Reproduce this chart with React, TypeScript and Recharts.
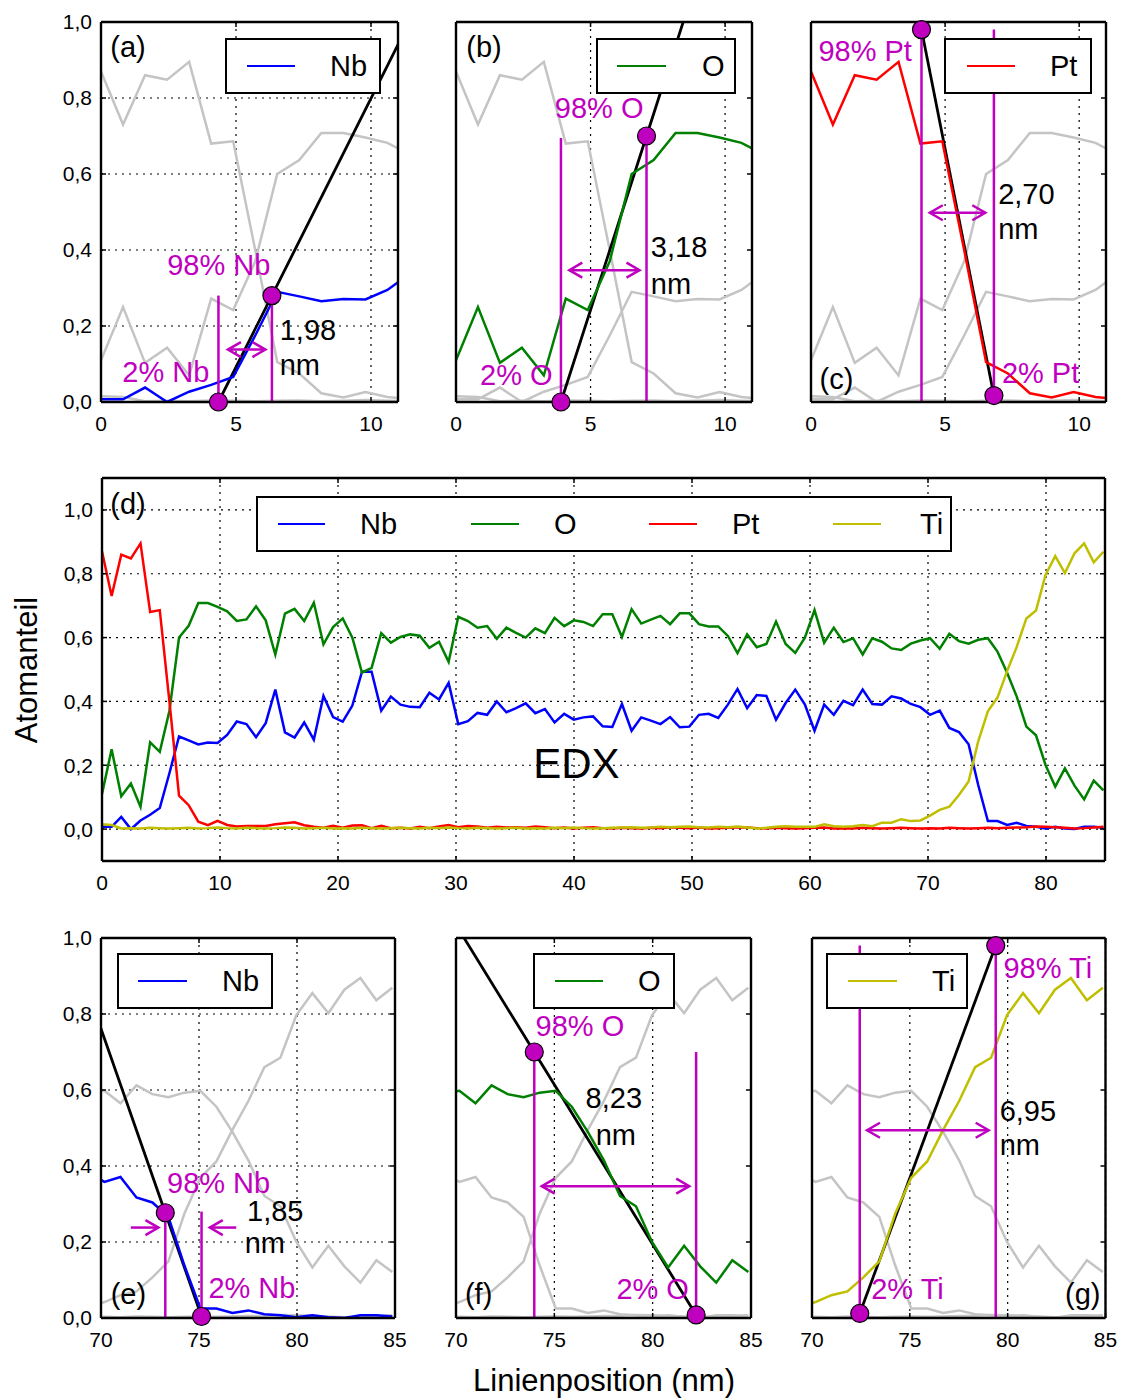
import React from 'react';
import { LineChart, Line, XAxis, YAxis, CartesianGrid, ReferenceLine, ReferenceDot } from 'recharts';

// EDX line scan, one sample about every 0.816 nm (105 samples over 0..85 nm)
const STEP_NM = 0.816;

const NB = [
  0.007, 0.007, 0.038, 0.0, 0.027, 0.045, 0.066, 0.175, 0.29, 0.278,
  0.265, 0.271, 0.27, 0.295, 0.337, 0.329, 0.288, 0.332, 0.437, 0.303,
  0.287, 0.334, 0.28, 0.417, 0.351, 0.337, 0.387, 0.493, 0.493, 0.371,
  0.415, 0.39, 0.383, 0.382, 0.427, 0.406, 0.458, 0.329, 0.338, 0.364,
  0.358, 0.4, 0.366, 0.379, 0.394, 0.363, 0.376, 0.334, 0.361, 0.343,
  0.35, 0.353, 0.322, 0.32, 0.392, 0.308, 0.35, 0.34, 0.329, 0.351,
  0.319, 0.321, 0.358, 0.361, 0.348, 0.39, 0.439, 0.379, 0.42, 0.417,
  0.343, 0.395, 0.437, 0.39, 0.308, 0.39, 0.358, 0.402, 0.388, 0.437,
  0.392, 0.39, 0.416, 0.409, 0.392, 0.382, 0.358, 0.371, 0.317, 0.304,
  0.266, 0.138, 0.025, 0.025, 0.013, 0.02, 0.01, 0.007, 0.002, 0.007,
  0.002, 0.0, 0.007, 0.007, 0.004,
];
const OX = [
  0.11, 0.25, 0.103, 0.143, 0.07, 0.272, 0.242, 0.37, 0.6, 0.637,
  0.708, 0.708, 0.696, 0.682, 0.652, 0.657, 0.698, 0.654, 0.547, 0.675,
  0.69, 0.652, 0.709, 0.579, 0.633, 0.66, 0.6, 0.49, 0.505, 0.614,
  0.584, 0.602, 0.61, 0.606, 0.568, 0.587, 0.524, 0.665, 0.652, 0.631,
  0.636, 0.596, 0.631, 0.615, 0.6, 0.629, 0.614, 0.662, 0.636, 0.654,
  0.649, 0.636, 0.673, 0.673, 0.602, 0.689, 0.644, 0.656, 0.668, 0.642,
  0.676, 0.676, 0.642, 0.635, 0.635, 0.605, 0.551, 0.61, 0.57, 0.58,
  0.65, 0.58, 0.552, 0.6, 0.686, 0.584, 0.631, 0.586, 0.598, 0.547,
  0.598, 0.587, 0.566, 0.561, 0.581, 0.591, 0.598, 0.565, 0.612, 0.589,
  0.581, 0.593, 0.598, 0.556, 0.49, 0.415, 0.321, 0.294, 0.2, 0.133,
  0.19, 0.136, 0.093, 0.152, 0.121,
];
const PT = [
  0.87, 0.73, 0.86, 0.848, 0.895, 0.68, 0.686, 0.4, 0.105, 0.075,
  0.023, 0.012, 0.026, 0.013, 0.008, 0.01, 0.01, 0.01, 0.015, 0.018,
  0.021, 0.012, 0.007, 0.004, 0.01, 0.004, 0.011, 0.012, 0.003, 0.01,
  0.003, 0.004, 0.002, 0.007, 0.003, 0.008, 0.013, 0.006, 0.01, 0.008,
  0.004, 0.007, 0.005, 0.006, 0.004, 0.008, 0.006, 0.003, 0.005, 0.002,
  0.004, 0.006, 0.003, 0.002, 0.004, 0.003, 0.002, 0.004, 0.003, 0.006,
  0.004, 0.003, 0.005, 0.002, 0.003, 0.004, 0.006, 0.005, 0.003, 0.002,
  0.004, 0.003, 0.002, 0.003, 0.004, 0.005, 0.002, 0.003, 0.002, 0.004,
  0.003, 0.002, 0.003, 0.004, 0.003, 0.002, 0.003, 0.002, 0.004, 0.003,
  0.002, 0.003, 0.004, 0.003, 0.004, 0.005, 0.006, 0.008, 0.007, 0.006,
  0.004, 0.002, 0.003, 0.005, 0.007,
];
const TI = [
  0.015, 0.013, 0.002, 0.003, 0.002, 0.004, 0.003, 0.002, 0.003, 0.004,
  0.002, 0.003, 0.005, 0.003, 0.002, 0.004, 0.003, 0.002, 0.003, 0.005,
  0.004, 0.002, 0.003, 0.004, 0.002, 0.003, 0.002, 0.004, 0.003, 0.002,
  0.003, 0.004, 0.003, 0.002, 0.004, 0.003, 0.005, 0.003, 0.002, 0.004,
  0.003, 0.002, 0.003, 0.004, 0.002, 0.003, 0.002, 0.004, 0.003, 0.005,
  0.003, 0.002, 0.003, 0.004, 0.005, 0.006, 0.004, 0.005, 0.007, 0.006,
  0.007, 0.008, 0.006, 0.005, 0.007, 0.006, 0.008, 0.005, 0.002, 0.004,
  0.007, 0.009, 0.007, 0.007, 0.007, 0.015, 0.009, 0.007, 0.009, 0.013,
  0.009, 0.02, 0.02, 0.031, 0.025, 0.027, 0.042, 0.06, 0.07, 0.107,
  0.149, 0.275, 0.369, 0.412, 0.495, 0.571, 0.66, 0.685, 0.797, 0.855,
  0.802, 0.864, 0.895, 0.836, 0.869,
];

const ELEMENTS = ['Nb', 'O', 'Pt', 'Ti'];
const COLORS: Record<string, string> = { Nb: '#0000ff', O: '#008000', Pt: '#ff0000', Ti: '#bfbf00' };
const GRAY = '#c4c4c4';
const MAGENTA = '#bf00bf';
const FONT = '"Liberation Sans", Arial, Helvetica, sans-serif';

const Y_TICKS = [0, 0.2, 0.4, 0.6, 0.8, 1.0];

const scan = NB.map((nb, i) => ({
  x: Math.round(i * STEP_NM * 1000) / 1000,
  Nb: nb,
  O: OX[i],
  Pt: PT[i],
  Ti: TI[i],
}));

type P = { x: number; y: number };
type Note = { x: number; y: number; text: string; color?: string; anchor?: 'start' | 'middle' | 'end'; size?: number };
type Arrow = { x1: number; x2: number; y: number; both: boolean };
type LegendCfg = { left: number; top: number; w: number; h: number; items: { name: string; line: [number, number]; text: number }[] };
type PanelCfg = {
  id: string;
  left: number; top: number; w: number; h: number;
  xDomain: [number, number]; xTicks: number[];
  yDomain: [number, number];
  yLabels: boolean;
  focus?: string;
  fit?: P[];
  dots?: P[];
  vlines?: P[];
  arrows?: Arrow[];
  notes: Note[];
  legend: LegendCfg;
};

// point on the straight line through a and b at position x
const along = (a: P, b: P, x: number): P => ({ x, y: a.y + ((b.y - a.y) * (x - a.x)) / (b.x - a.x) });

// 2% / 98% points of each transition
const A2 = { x: 4.35, y: 0 }, A98 = { x: 6.33, y: 0.28 };
const B2 = { x: 3.9, y: 0 }, B98 = { x: 7.08, y: 0.7 };
const C98 = { x: 4.12, y: 0.98 }, C2 = { x: 6.82, y: 0.017 };
const E98 = { x: 73.28, y: 0.277 }, E2 = { x: 75.13, y: 0.004 };
const F98 = { x: 73.98, y: 0.7 }, F2 = { x: 82.21, y: 0.008 };
const G2 = { x: 72.44, y: 0.012 }, G98 = { x: 79.39, y: 0.98 };

const TOP = { top: 21.7, h: 380, xDomain: [0, 11] as [number, number], xTicks: [0, 5, 10], yDomain: [0, 1] as [number, number] };
const BOT = { top: 938, h: 380, xDomain: [70, 85] as [number, number], xTicks: [70, 75, 80, 85], yDomain: [0, 1] as [number, number] };

const PANELS: PanelCfg[] = [
  {
    id: 'a', left: 101, w: 297, ...TOP, yLabels: true, focus: 'Nb',
    fit: [A2, A98, along(A2, A98, 11.6)], dots: [A2, A98],
    vlines: [{ x: 4.35, y: 0.28 }, { x: 6.33, y: 0.28 }],
    arrows: [{ x1: 4.7, x2: 6.09, y: 0.138, both: true }],
    notes: [
      { x: 1.0, y: 0.935, text: '(a)' },
      { x: 4.36, y: 0.36, text: '98% Nb', color: MAGENTA },
      { x: 2.4, y: 0.08, text: '2% Nb', color: MAGENTA },
      { x: 6.62, y: 0.19, text: '1,98', anchor: 'start' },
      { x: 6.62, y: 0.098, text: 'nm', anchor: 'start' },
    ],
    legend: { left: 225, top: 38, w: 156, h: 56, items: [{ name: 'Nb', line: [247, 295], text: 330 }] },
  },
  {
    id: 'b', left: 456, w: 296, ...TOP, yLabels: false, focus: 'O',
    fit: [B2, B98, along(B2, B98, 9.2)], dots: [B2, B98],
    vlines: [{ x: 3.9, y: 0.695 }, { x: 7.08, y: 0.7 }],
    arrows: [{ x1: 4.21, x2: 6.82, y: 0.347, both: true }],
    notes: [
      { x: 1.04, y: 0.935, text: '(b)' },
      { x: 5.32, y: 0.773, text: '98% O', color: MAGENTA },
      { x: 2.24, y: 0.07, text: '2% O', color: MAGENTA },
      { x: 7.24, y: 0.407, text: '3,18', anchor: 'start' },
      { x: 7.24, y: 0.31, text: 'nm', anchor: 'start' },
    ],
    legend: { left: 596, top: 38, w: 140, h: 56, items: [{ name: 'O', line: [617, 666], text: 702 }] },
  },
  {
    id: 'c', left: 811, w: 295, ...TOP, yLabels: false, focus: 'Pt',
    fit: [C98, C2], dots: [C98, C2],
    vlines: [{ x: 4.12, y: 0.98 }, { x: 6.82, y: 0.98 }],
    arrows: [{ x1: 4.43, x2: 6.5, y: 0.498, both: true }],
    notes: [
      { x: 0.95, y: 0.061, text: '(c)' },
      { x: 2.02, y: 0.925, text: '98% Pt', color: MAGENTA },
      { x: 8.56, y: 0.076, text: '2% Pt', color: MAGENTA },
      { x: 6.98, y: 0.548, text: '2,70', anchor: 'start' },
      { x: 6.98, y: 0.456, text: 'nm', anchor: 'start' },
    ],
    legend: { left: 944, top: 38, w: 148, h: 56, items: [{ name: 'Pt', line: [967, 1015], text: 1050 }] },
  },
  {
    id: 'd', left: 102, top: 478, w: 1003, h: 383, xDomain: [0, 85], xTicks: [0, 10, 20, 30, 40, 50, 60, 70, 80],
    yDomain: [-0.1, 1.1], yLabels: true,
    notes: [
      { x: 2.2, y: 1.02, text: '(d)' },
      { x: 40.2, y: 0.207, text: 'EDX', size: 42 },
    ],
    legend: {
      left: 256, top: 496, w: 696, h: 56,
      items: [
        { name: 'Nb', line: [278, 325], text: 360 },
        { name: 'O', line: [471, 519], text: 554 },
        { name: 'Pt', line: [649, 697], text: 732 },
        { name: 'Ti', line: [833, 881], text: 920 },
      ],
    },
  },
  {
    id: 'e', left: 101, w: 294, ...BOT, yLabels: true, focus: 'Nb',
    fit: [along(E98, E2, 69.5), E98, E2], dots: [E98, E2],
    vlines: [{ x: 73.28, y: 0.277 }, { x: 75.13, y: 0.28 }],
    arrows: [
      { x1: 71.52, x2: 72.93, y: 0.238, both: false },
      { x1: 76.9, x2: 75.55, y: 0.238, both: false },
    ],
    notes: [
      { x: 71.4, y: 0.064, text: '(e)' },
      { x: 76.0, y: 0.355, text: '98% Nb', color: MAGENTA },
      { x: 77.7, y: 0.079, text: '2% Nb', color: MAGENTA },
      { x: 77.45, y: 0.282, text: '1,85', anchor: 'start' },
      { x: 77.33, y: 0.197, text: 'nm', anchor: 'start' },
    ],
    legend: { left: 117, top: 953, w: 156, h: 56, items: [{ name: 'Nb', line: [138, 187], text: 222 }] },
  },
  {
    id: 'f', left: 456, w: 295, ...BOT, yLabels: false, focus: 'O',
    fit: [along(F98, F2, 69.8), F98, F2], dots: [F98, F2],
    vlines: [{ x: 73.98, y: 0.7 }, { x: 82.21, y: 0.7 }],
    arrows: [{ x1: 74.36, x2: 81.86, y: 0.347, both: true }],
    notes: [
      { x: 71.15, y: 0.062, text: '(f)' },
      { x: 76.3, y: 0.769, text: '98% O', color: MAGENTA },
      { x: 80.0, y: 0.076, text: '2% O', color: MAGENTA },
      { x: 76.59, y: 0.579, text: '8,23', anchor: 'start' },
      { x: 77.1, y: 0.482, text: 'nm', anchor: 'start' },
    ],
    legend: { left: 533, top: 953, w: 142, h: 56, items: [{ name: 'O', line: [555, 603], text: 638 }] },
  },
  {
    id: 'g', left: 811.7, w: 293.5, ...BOT, yLabels: false, focus: 'Ti',
    fit: [G2, G98], dots: [G2, G98],
    vlines: [{ x: 72.44, y: 0.98 }, { x: 79.39, y: 0.98 }],
    arrows: [{ x1: 72.81, x2: 79.03, y: 0.494, both: true }],
    notes: [
      { x: 83.84, y: 0.062, text: '(g)' },
      { x: 82.05, y: 0.921, text: '98% Ti', color: MAGENTA },
      { x: 74.88, y: 0.076, text: '2% Ti', color: MAGENTA },
      { x: 79.59, y: 0.544, text: '6,95', anchor: 'start' },
      { x: 79.59, y: 0.454, text: 'nm', anchor: 'start' },
    ],
    legend: { left: 826, top: 953, w: 142, h: 56, items: [{ name: 'Ti', line: [848, 897], text: 932 }] },
  },
];

const YW = 60, MT = 20, MR = 15, XH = 40;
const TICK_PX = 5;
const TICK = { fill: '#000', fontSize: 21, fontFamily: FONT };
const AXIS_LINE = { stroke: '#000', strokeWidth: 2.4 };
const TICK_LINE = { stroke: '#000', strokeWidth: 1.5 };
const fmtY = (v: number) => v.toFixed(1).replace('.', ',');

const arrowShape = (both: boolean) => (p: any) => {
  const { x1, y1, x2, y2 } = p;
  const d = Math.sign(x2 - x1) || 1;
  const L = 13, H = 7.5;
  return (
    <g stroke={MAGENTA} strokeWidth={2.5} fill="none">
      <line x1={x1} y1={y1} x2={x2} y2={y2} />
      <polyline points={`${x2 - d * L},${y2 - H} ${x2},${y2} ${x2 - d * L},${y2 + H}`} />
      {both && <polyline points={`${x1 + d * L},${y1 - H} ${x1},${y1} ${x1 + d * L},${y1 + H}`} />}
    </g>
  );
};

const noteShape = (n: Note) => (p: any) => (
  <text
    x={p.cx}
    y={p.cy}
    fill={n.color ?? '#000'}
    fontSize={n.size ?? 29}
    fontFamily={FONT}
    textAnchor={n.anchor ?? 'middle'}
    dominantBaseline="central"
  >
    {n.text}
  </text>
);

function Panel({ cfg }: { cfg: PanelCfg }) {
  const [lo, hi] = cfg.xDomain;
  const [ylo, yhi] = cfg.yDomain;
  const data = scan.filter((r) => r.x >= lo - 1 && r.x <= hi + 1);
  const grey = cfg.focus ? ELEMENTS.filter((e) => e !== cfg.focus) : [];
  const coloured = cfg.focus ? [cfg.focus] : ELEMENTS;
  // tick length on the top / right edge, in data units
  const dyTick = (TICK_PX * (yhi - ylo)) / cfg.h;
  const dxTick = (TICK_PX * (hi - lo)) / cfg.w;

  return (
    <div style={{ position: 'absolute', left: cfg.left - YW, top: cfg.top - MT }}>
      <LineChart
        width={YW + cfg.w + MR}
        height={MT + cfg.h + XH}
        data={data}
        margin={{ top: MT, right: MR, left: 0, bottom: 0 }}
      >
        <CartesianGrid stroke="#000" strokeDasharray="2 5" strokeWidth={1.2} />
        <XAxis
          dataKey="x" type="number" domain={cfg.xDomain} ticks={cfg.xTicks} allowDataOverflow interval={0}
          height={XH} tickSize={-TICK_PX} tickMargin={19.5} axisLine={AXIS_LINE} tickLine={TICK_LINE} tick={TICK}
        />
        <YAxis
          type="number" domain={cfg.yDomain} ticks={Y_TICKS} allowDataOverflow interval={0} width={YW}
          tickSize={-TICK_PX} tickMargin={14} axisLine={AXIS_LINE} tickLine={TICK_LINE}
          tick={cfg.yLabels ? TICK : false} tickFormatter={fmtY}
        />
        {grey.map((e) => (
          <Line key={'g' + e} dataKey={e} stroke={GRAY} strokeWidth={2.5} dot={false} isAnimationActive={false} />
        ))}
        {cfg.fit && (
          <Line data={cfg.fit} dataKey="y" stroke="#000" strokeWidth={2.8} dot={false} isAnimationActive={false} />
        )}
        {coloured.map((e) => (
          <Line key={'c' + e} dataKey={e} stroke={COLORS[e]} strokeWidth={2.5} dot={false} isAnimationActive={false} />
        ))}
        {/* frame: top and right edges with inward ticks */}
        <ReferenceLine segment={[{ x: lo, y: yhi }, { x: hi, y: yhi }]} stroke="#000" strokeWidth={2.4} ifOverflow="visible" />
        <ReferenceLine segment={[{ x: hi, y: ylo }, { x: hi, y: yhi }]} stroke="#000" strokeWidth={2.4} ifOverflow="visible" />
        {cfg.xTicks.map((t) => (
          <ReferenceLine key={'tt' + t} segment={[{ x: t, y: yhi }, { x: t, y: yhi - dyTick }]} stroke="#000" strokeWidth={1.5} ifOverflow="visible" />
        ))}
        {Y_TICKS.map((t) => (
          <ReferenceLine key={'rt' + t} segment={[{ x: hi, y: t }, { x: hi - dxTick, y: t }]} stroke="#000" strokeWidth={1.5} ifOverflow="visible" />
        ))}
        {(cfg.vlines ?? []).map((v, i) => (
          <ReferenceLine
            key={'v' + i}
            segment={[{ x: v.x, y: 0 }, { x: v.x, y: v.y }]}
            stroke={MAGENTA}
            strokeWidth={2.5}
            ifOverflow="visible"
          />
        ))}
        {(cfg.arrows ?? []).map((a, i) => (
          <ReferenceLine
            key={'a' + i}
            segment={[{ x: a.x1, y: a.y }, { x: a.x2, y: a.y }]}
            ifOverflow="visible"
            shape={arrowShape(a.both)}
          />
        ))}
        {(cfg.dots ?? []).map((d, i) => (
          <ReferenceDot key={'d' + i} x={d.x} y={d.y} r={9} fill={MAGENTA} stroke="#000" strokeWidth={1.2} ifOverflow="visible" />
        ))}
        {cfg.notes.map((n, i) => (
          <ReferenceDot key={'n' + i} x={n.x} y={n.y} r={0} ifOverflow="visible" shape={noteShape(n)} />
        ))}
      </LineChart>
    </div>
  );
}

function LegendBox({ box }: { box: LegendCfg }) {
  const inner = box.h - 4;
  return (
    <div
      style={{
        position: 'absolute', left: box.left, top: box.top, width: box.w, height: box.h,
        background: '#fff', border: '2px solid #000', boxSizing: 'border-box',
      }}
    >
      {box.items.map((it) => (
        <React.Fragment key={it.name}>
          <div
            style={{
              position: 'absolute', left: it.line[0] - box.left - 2, top: inner / 2 - 1.25,
              width: it.line[1] - it.line[0], height: 2.5, background: COLORS[it.name],
            }}
          />
          <div
            style={{
              position: 'absolute', left: it.text - box.left - 2, top: 0, height: inner,
              lineHeight: `${inner}px`, fontSize: 29, color: '#000',
            }}
          >
            {it.name}
          </div>
        </React.Fragment>
      ))}
    </div>
  );
}

export default function App() {
  return (
    <div style={{ position: 'absolute', left: 0, top: 0, width: 1127, height: 1398, background: '#fff', fontFamily: FONT }}>
      {PANELS.map((p) => (
        <Panel key={p.id} cfg={p} />
      ))}
      {PANELS.map((p) => (
        <LegendBox key={'lg' + p.id} box={p.legend} />
      ))}
      <div
        style={{
          position: 'absolute', left: 27, top: 670, transform: 'translate(-50%, -50%) rotate(-90deg)',
          fontSize: 31, whiteSpace: 'nowrap', color: '#000',
        }}
      >
        Atomanteil
      </div>
      <div
        style={{
          position: 'absolute', left: 604, top: 1381, transform: 'translate(-50%, -50%)',
          fontSize: 31, whiteSpace: 'nowrap', color: '#000',
        }}
      >
        Linienposition (nm)
      </div>
    </div>
  );
}
